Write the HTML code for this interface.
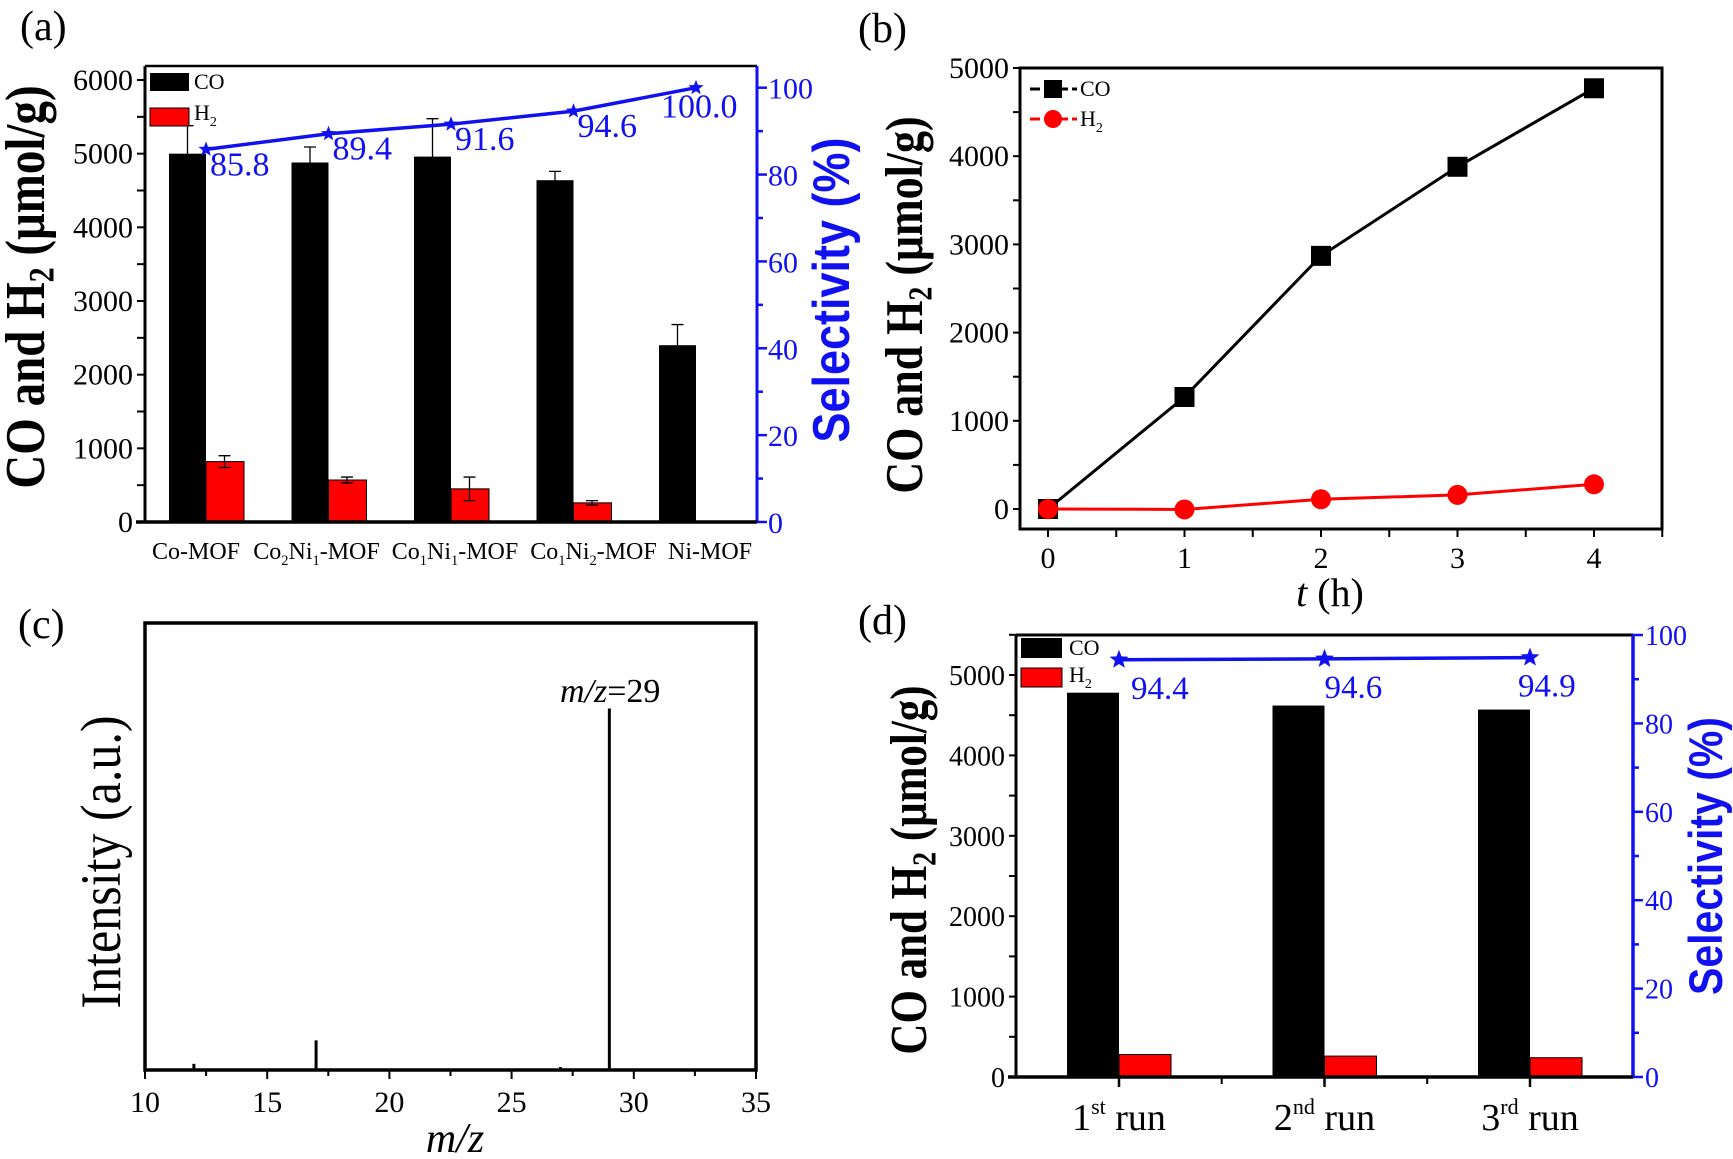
<!DOCTYPE html>
<html><head><meta charset="utf-8"><style>
html,body{margin:0;padding:0;background:#fff;}
svg{display:block;font-family:"Liberation Serif",serif;}
</style></head><body>
<svg id="fig" xmlns="http://www.w3.org/2000/svg" width="1733" height="1159" viewBox="0 0 1733 1159" font-family="Liberation Serif, serif">
<rect x="0" y="0" width="1733" height="1159" fill="#fff"/>
<text x="20" y="40" font-size="42">(a)</text>
<text x="858" y="42" font-size="42">(b)</text>
<text x="18" y="638" font-size="42">(c)</text>
<text x="858" y="634" font-size="42">(d)</text>
<text transform="translate(44,287) rotate(-90) scale(1,1.2)" text-anchor="middle" font-size="47" font-weight="bold">CO and H<tspan font-size="30" dy="8">2</tspan><tspan dy="-8"> (μmol/g)</tspan></text>
<text transform="translate(849,290) rotate(-90) scale(1,1.15)" text-anchor="middle" font-size="45" font-weight="bold" fill="#1010f0" font-family="Liberation Sans, sans-serif">Selectivity (%)</text>
<text transform="translate(922,305) rotate(-90) scale(1,1.2)" text-anchor="middle" font-size="44" font-weight="bold">CO and H<tspan font-size="28" dy="8">2</tspan><tspan dy="-8"> (μmol/g)</tspan></text>
<text x="1330" y="606" text-anchor="middle" font-size="40"><tspan font-style="italic">t</tspan> (h)</text>
<text transform="translate(120,862) rotate(-90) scale(1,1.15)" text-anchor="middle" font-size="50">Intensity (a.u.)</text>
<text x="455" y="1152" text-anchor="middle" font-size="42" font-style="italic">m/z</text>
<text x="560" y="702" font-size="34"><tspan font-style="italic">m/z</tspan>=29</text>
<text transform="translate(926,870) rotate(-90) scale(1,1.2)" text-anchor="middle" font-size="43" font-weight="bold">CO and H<tspan font-size="28" dy="8">2</tspan><tspan dy="-8"> (μmol/g)</tspan></text>
<text transform="translate(1722,856) rotate(-90) scale(1,1.15)" text-anchor="middle" font-size="41" font-weight="bold" fill="#1010f0" font-family="Liberation Sans, sans-serif">Selectivity (%)</text>
<g id="layer"></g>
</svg>
<script>
// ---- Panel (a) data ----
const aCategories = ["Co-MOF","Co2Ni1-MOF","Co1Ni1-MOF","Co1Ni2-MOF","Ni-MOF"];
const aCO = [5000, 4880, 4960, 4640, 2400];
const aCOerr = [380, 210, 515, 120, 280];
const aH2 = [820, 570, 450, 260, 0];
const aH2err = [80, 40, 160, 30, 0];
const aSel = [85.8, 89.4, 91.6, 94.6, 100.0];
const aSelLabels = ["85.8","89.4","91.6","94.6","100.0"];
const aLeftTicks = [0,1000,2000,3000,4000,5000,6000];
const aRightTicks = [0,20,40,60,80,100];
// ---- Panel (b) data ----
const bTimes = [0,1,2,3,4];
const bCO = [0, 1270, 2870, 3880, 4770];
const bH2 = [0, -5, 110, 160, 280];
const bYTicks = [0,1000,2000,3000,4000,5000];
const bXTicks = [0,1,2,3,4];
// ---- Panel (c) data ----
const cMz = [12, 17, 27, 29];
const cIntensity = [1.7, 8.2, 0.8, 100];
const cXTicks = [10,15,20,25,30,35];
// ---- Panel (d) data ----
const dRuns = ["1st","2nd","3rd"];
const dCO = [4780, 4620, 4570];
const dH2 = [280, 260, 240];
const dSel = [94.4, 94.6, 94.9];
const dSelLabels = ["94.4","94.6","94.9"];
const dLeftTicks = [0,1000,2000,3000,4000,5000];
const dRightTicks = [0,20,40,60,80,100];

const NS = "http://www.w3.org/2000/svg";
const layer = document.getElementById('layer');
const BLUE = "#1010f0";
function mk(tag, attrs){const e=document.createElementNS(NS,tag);for(const k in attrs)e.setAttribute(k,attrs[k]);layer.appendChild(e);return e;}
function lin(d0,d1,r0,r1){return v=>r0+(v-d0)*(r1-r0)/(d1-d0);}
function starPts(cx,cy,r){let p=[];for(let i=0;i<10;i++){const a=-Math.PI/2+i*Math.PI/5;const rr=i%2?r*0.42:r;p.push((cx+rr*Math.cos(a)).toFixed(1)+","+(cy+rr*Math.sin(a)).toFixed(1));}return p.join(" ");}
function line(x1,y1,x2,y2,stroke,w){return mk('line',{x1,y1,x2,y2,stroke,'stroke-width':w});}
function subLabel(x,y,label,size,name){
  const t=mk('text',{x,y,'text-anchor':'middle','font-size':size});
  
  
  const parts=label.match(/[A-Za-z\-]+|\d/g);
  let sub=false;
  parts.forEach(p=>{const s=document.createElementNS(NS,'tspan');s.textContent=p;
    if(/\d/.test(p)){s.setAttribute('font-size',size*0.6);s.setAttribute('dy',sub?0:6);sub=true;}
    else{if(sub){s.setAttribute('dy',-6);}sub=false;}
    t.appendChild(s);});
  return t;
}

// ================= Panel (a) =================
(function(){
  const L=145,R=757,T=66,B=522;
  const yL=lin(0,6000,522,80), yR=lin(0,100,522,87.7);
  const xc=i=>206+i*122.5;
  const bw=37;
  aCO.forEach((v,i)=>{
    const r=mk('rect',{x:xc(i)-bw,y:yL(v),width:bw,height:yL(0)-yL(v),fill:'#000'});
    
    
  });
  aH2.forEach((v,i)=>{
    if(v<=0)return;
    const r=mk('rect',{x:xc(i),y:yL(v),width:bw+1,height:yL(0)-yL(v),fill:'#f00',stroke:'#000','stroke-width':1});
    
    
  });
  function err(cx,v,e,name){
    if(e<=0)return;
    const g=mk('path',{d:`M${cx},${yL(v-e)}V${yL(v+e)}M${cx-6},${yL(v+e)}H${cx+6}M${cx-6},${yL(v-e)}H${cx+6}`,stroke:'#000','stroke-width':1.3,fill:'none'});
    
    
  }
  aCO.forEach((v,i)=>err(xc(i)-bw/2,v,aCOerr[i],'a-errorbar-co-'+i));
  aH2.forEach((v,i)=>err(xc(i)+bw/2,v,aH2err[i],'a-errorbar-h2-'+i));
  const pts=aSel.map((v,i)=>xc(i)+","+yR(v)).join(" ");
  const pl=mk('polyline',{points:pts,fill:'none',stroke:BLUE,'stroke-width':3.5});
  
  
  aSel.forEach((v,i)=>{
    const s=mk('polygon',{points:starPts(xc(i),yR(v),8),fill:BLUE});
    
    
    const offs=[[4,26],[4,26],[4,26],[4,26],[-35,30]];
    const t=mk('text',{x:xc(i)+offs[i][0],y:yR(v)+offs[i][1],'font-size':34,fill:BLUE});
    t.textContent=aSelLabels[i];
    
    
  });
  let s;
  s=line(L,T,R,T,'#000',2.5);
  s=line(L,T,L,B,'#000',3);
  s=line(R,T,R,B+1,BLUE,3);
  s=line(136,B,R,B,'#000',3.5);
  for(let v=0;v<=6000;v+=500){s=line(L-8,yL(v),L,yL(v),'#000',2);}
  aLeftTicks.forEach(v=>{const t=mk('text',{x:133,y:yL(v)+10,'text-anchor':'end','font-size':30});t.textContent=v;});
  for(let v=0;v<=100;v+=10){s=line(R,yR(v),R+(v%20?6:10),yR(v),BLUE,2.5);}
  aRightTicks.forEach(v=>{const t=mk('text',{x:768,y:yR(v)+11,'font-size':30,fill:BLUE});t.textContent=v;});
  const labShift=[-10,-12,4,20,14];
  aCategories.forEach((c,i)=>subLabel(xc(i)+labShift[i],559,c,24,'a-category-label-'+i));
  let r=mk('rect',{x:150,y:73,width:39,height:18,fill:'#000'});
  let t=mk('text',{x:194,y:89,'font-size':22});t.textContent='CO';
  r=mk('rect',{x:150,y:108,width:39,height:18,fill:'#f00',stroke:'#000','stroke-width':1});
  t=mk('text',{x:194,y:120,'font-size':22});t.innerHTML='H<tspan font-size="14" dy="6">2</tspan>';
})();

// ================= Panel (b) =================
(function(){
  const L=1020,R=1662,T=68,B=529;
  const x=lin(0,4,1048,1594), y=lin(0,5000,509,68);
  let s;
  s=mk('rect',{x:L,y:T,width:R-L,height:B-T,fill:'none',stroke:'#000','stroke-width':3});
  for(let v=0;v<=5000;v+=500){s=line(L-7,y(v),L,y(v),'#000',2);}
  bYTicks.forEach(v=>{const t=mk('text',{x:1009,y:y(v)+10,'text-anchor':'end','font-size':30});t.textContent=v;});
  for(let v=0;v<=4.5;v+=0.5){s=line(x(v),B,x(v),B+8,'#000',2);}
  bXTicks.forEach(v=>{const t=mk('text',{x:x(v),y:568,'text-anchor':'middle','font-size':30});t.textContent=v;});
  let pl=mk('polyline',{points:bTimes.map((t,i)=>x(t)+","+y(bCO[i])).join(" "),fill:'none',stroke:'#000','stroke-width':3});
  
  pl=mk('polyline',{points:bTimes.map((t,i)=>x(t)+","+y(bH2[i])).join(" "),fill:'none',stroke:'#f00','stroke-width':3});
  
  bTimes.forEach((t,i)=>{
    const r=mk('rect',{x:x(t)-10,y:y(bCO[i])-10,width:20,height:20,fill:'#000'});
    
  });
  bTimes.forEach((t,i)=>{
    const c=mk('circle',{cx:x(t),cy:y(bH2[i]),r:10,fill:'#f00'});
    
  });
  s=mk('path',{d:'M1030,89H1077',stroke:'#000','stroke-width':3,'stroke-dasharray':'10,4'});
  s=mk('rect',{x:1044,y:80,width:18,height:18,fill:'#000'});
  let t=mk('text',{x:1080,y:96,'font-size':22});t.textContent='CO';
  s=mk('path',{d:'M1030,119H1077',stroke:'#f00','stroke-width':3,'stroke-dasharray':'10,4'});
  s=mk('circle',{cx:1053,cy:119,r:9,fill:'#f00'});
  t=mk('text',{x:1080,y:126,'font-size':22});t.innerHTML='H<tspan font-size="14" dy="6">2</tspan>';
})();

// ================= Panel (c) =================
(function(){
  const L=145,R=756,T=623,B=1070;
  const x=lin(10,35,L,R), y=lin(0,100,B,708.5);
  let s;
  cMz.forEach((m,i)=>{
    const l=line(x(m),y(0),x(m),y(cIntensity[i]),'#000',3);
    
  });
  s=mk('rect',{x:L,y:T,width:R-L,height:B-T,fill:'none',stroke:'#000','stroke-width':3.5});
  for(let v=10;v<=35;v+=2.5){s=line(x(v),B,x(v),B+(v%5?6:9),'#000',2);}
  cXTicks.forEach(v=>{const t=mk('text',{x:x(v),y:1112,'text-anchor':'middle','font-size':30});t.textContent=v;});
})();

// ================= Panel (d) =================
(function(){
  const L=1016,R=1633,T=635,B=1077;
  const yL=lin(0,5000,1077,675), yR=lin(0,100,1077,635);
  const xc=i=>1119+i*205.5;
  const bw=52;
  dCO.forEach((v,i)=>{
    const r=mk('rect',{x:xc(i)-bw,y:yL(v),width:bw,height:yL(0)-yL(v),fill:'#000'});
    
  });
  dH2.forEach((v,i)=>{
    const r=mk('rect',{x:xc(i),y:yL(v),width:bw,height:yL(0)-yL(v),fill:'#f00',stroke:'#000','stroke-width':1});
    
  });
  const pl=mk('polyline',{points:dSel.map((v,i)=>xc(i)+","+yR(v)).join(" "),fill:'none',stroke:BLUE,'stroke-width':3.5});
  
  dSel.forEach((v,i)=>{
    const s=mk('polygon',{points:starPts(xc(i),yR(v),10),fill:BLUE});
    
    const t=mk('text',{x:xc(i)+[12,0,-12][i],y:yR(v)+39,'font-size':33,fill:BLUE});
    t.textContent=dSelLabels[i];
    
  });
  let s;
  s=line(L,T,R,T,'#000',3);
  s=line(L,T,L,B,'#000',3);
  s=line(R,T,R,B+1,BLUE,3.5);
  s=line(1008,B,R,B,'#000',3.5);
  for(let v=0;v<=5500;v+=500){s=line(L-7,yL(v),L,yL(v),'#000',2);}
  dLeftTicks.forEach(v=>{const t=mk('text',{x:1005,y:yL(v)+10,'text-anchor':'end','font-size':28});t.textContent=v;});
  for(let v=0;v<=100;v+=10){s=line(R,yR(v),R+(v%20?6:10),yR(v),BLUE,2.5);}
  dRightTicks.forEach(v=>{const t=mk('text',{x:1645,y:yR(v)+10,'font-size':28,fill:BLUE});t.textContent=v;});
  for(let i=0;i<3;i++){s=line(xc(i),B,xc(i),B+10,'#000',2.5);}
  for(let i=0;i<2;i++){s=line(xc(i)+102.7,B,xc(i)+102.7,B+7,'#000',2);}
  dRuns.forEach((r,i)=>{
    const t=mk('text',{x:xc(i),y:1130,'text-anchor':'middle','font-size':38});
    t.innerHTML=r.slice(0,1)+'<tspan font-size="22" dy="-16">'+r.slice(1)+'</tspan><tspan dy="16"> run</tspan>';
    
  });
  let r=mk('rect',{x:1021,y:638,width:41,height:20,fill:'#000'});
  let t=mk('text',{x:1069,y:655,'font-size':22});t.textContent='CO';
  r=mk('rect',{x:1021,y:668,width:41,height:19,fill:'#f00',stroke:'#000','stroke-width':1});
  t=mk('text',{x:1069,y:682,'font-size':22});t.innerHTML='H<tspan font-size="14" dy="6">2</tspan>';
})();
</script>
</body></html>
